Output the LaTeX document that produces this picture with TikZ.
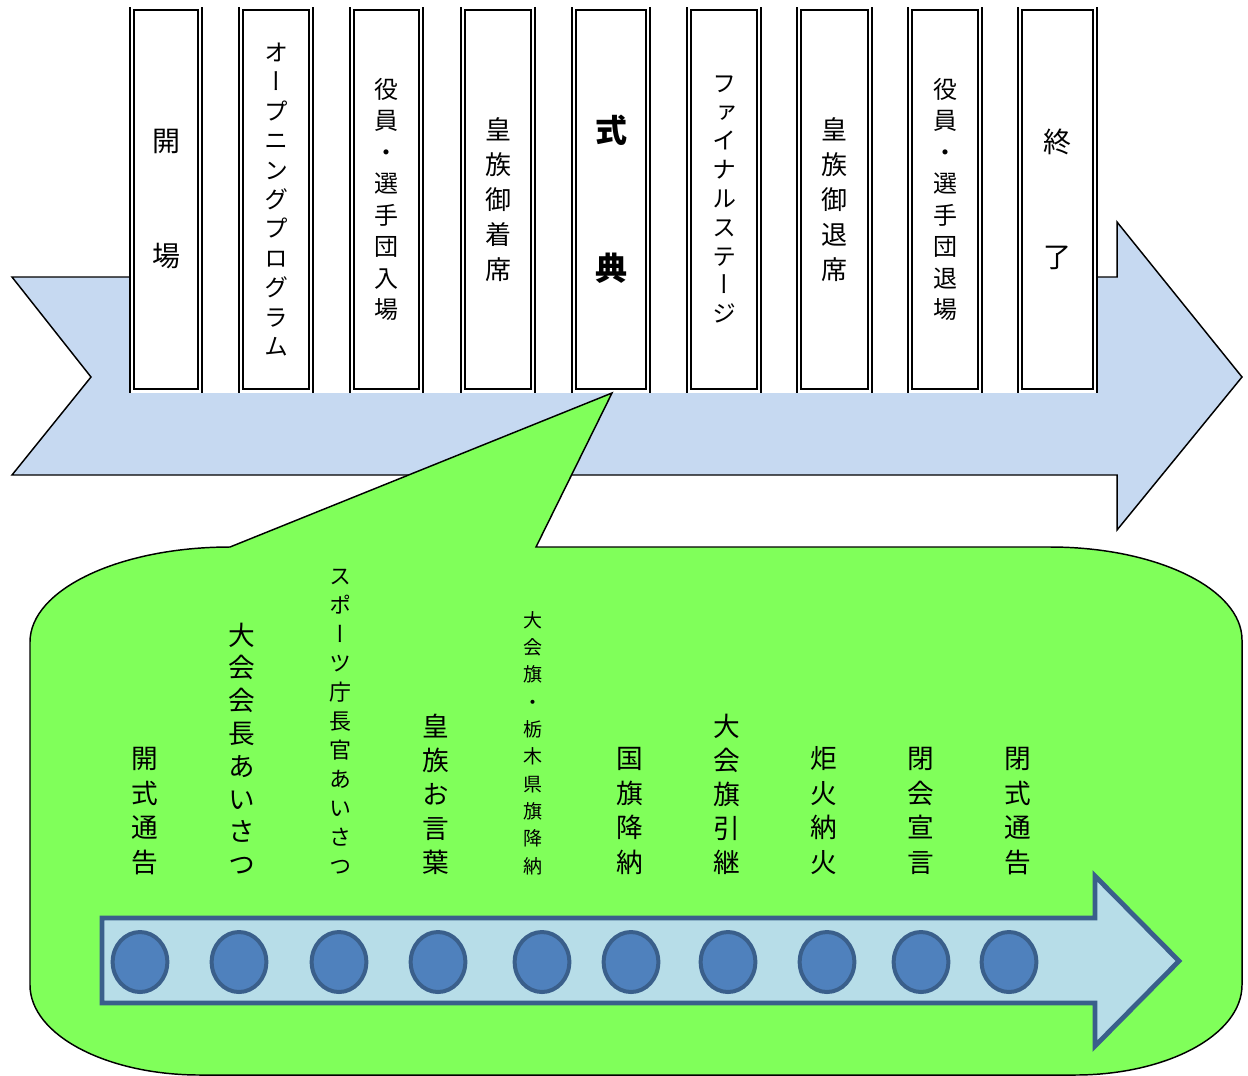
\documentclass[tikz,border=0pt]{standalone}
\usepackage{fontspec}
\setmainfont{Noto Sans CJK JP}[RawFeature=+vert]
\usetikzlibrary{shapes.geometric}

\definecolor{bandblue}{RGB}{198,217,241}
\definecolor{calloutgreen}{RGB}{128,255,90}
\definecolor{trackfill}{RGB}{183,221,232}
\definecolor{trackline}{RGB}{58,95,139}
\definecolor{dotfill}{RGB}{79,129,189}

\tikzset{
  band/.style={fill=bandblue, draw=black, line width=1.1pt, line join=miter},
  callout/.style={fill=calloutgreen, draw=black, line width=1.1pt, line join=miter},
  stage/.style={draw=black, fill=white, line width=1.2pt, inner sep=0pt,
    minimum height=284.25pt, align=center},
  stageline/.style={draw=black, line width=1.2pt},
  track/.style={fill=trackfill, draw=trackline, line width=3.6pt, line join=miter},
  dot/.style={ellipse, fill=dotfill, draw=trackline, line width=3pt,
    minimum width=41pt, minimum height=45pt, inner sep=0pt},
  item/.style={anchor=south, inner sep=0pt, align=center},
}

% one box of the upper timeline: name, left x, right x, font, text
\newcommand\stagebox[5]{%
  \draw[stageline] (#2,7) -- (#2,393) (#3,7) -- (#3,393);
  \node[stage, minimum width={(#3-#2-8)*0.75pt}, font=#4] (#1) at ({(#2+#3)/2},199.5) {#5};
}

\begin{document}
\begin{tikzpicture}[x=0.75pt, y=-0.75pt]
\useasboundingbox (0,0) rectangle (1248,1075);

% big notched arrow of the day's programme
\path[band] (130,277) -- (12,277) -- (91,377) -- (12,475) -- (1117,475)
  -- (1117,530) -- (1242,377) -- (1117,222) -- (1117,277) -- (1097,277);
\fill[white] (130,0) rectangle (1098,393);

% programme steps
\stagebox{s1}{130}{202}{\fontsize{21}{86.25}\selectfont}{開\\場}
\stagebox{s2}{239}{313}{\fontsize{18}{22.1}\selectfont}{オ\\ー\\プ\\ニ\\ン\\グ\\プ\\ロ\\グ\\ラ\\ム}
\stagebox{s3}{350}{423}{\fontsize{18}{23.6}\selectfont}{役\\員\\・\\選\\手\\団\\入\\場}
\stagebox{s4}{461}{535}{\fontsize{19.5}{26.3}\selectfont}{皇\\族\\御\\着\\席}
\stagebox{s5}{572}{650}{\fontsize{24}{103.5}\selectfont\bfseries}{式\\典}
\stagebox{s6}{687}{761}{\fontsize{18}{21.6}\selectfont}{フ\\ァ\\イ\\ナ\\ル\\ス\\テ\\ー\\ジ}
\stagebox{s7}{797}{872}{\fontsize{19.5}{26.3}\selectfont}{皇\\族\\御\\退\\席}
\stagebox{s8}{908}{982}{\fontsize{18}{23.6}\selectfont}{役\\員\\・\\選\\手\\団\\退\\場}
\stagebox{s9}{1018}{1097}{\fontsize{21}{86.25}\selectfont}{終\\了}

% speech bubble detailing the ceremony
\path[callout] (230,547) -- (612,393) -- (536,547) -- (1050,547)
  .. controls (1156,547) and (1242,588.6) .. (1242,640)
  -- (1242,985)
  .. controls (1242,1034.7) and (1167.2,1075) .. (1075,1075)
  -- (200,1075)
  .. controls (106.1,1075) and (30,1034.7) .. (30,985)
  -- (30,642)
  .. controls (30,589.5) and (119.5,547) .. (230,547) -- cycle;

% ceremony time line
\path[track] (102,918) -- (1095,918) -- (1095,876) -- (1179,961)
  -- (1095,1046) -- (1095,1003) -- (102,1003) -- cycle;

\foreach \n/\x in {1/140,2/239,3/339,4/438,5/542,6/631,7/728,8/827,9/921,10/1009}
  \node[dot] (d\n) at (\x,962) {};

% ceremony items
\node[item, font=\fontsize{20}{26}\selectfont] (c1) at (145,875) {開\\式\\通\\告};
\node[item, font=\fontsize{20}{24.6}\selectfont] (c2) at (242,875) {大\\会\\会\\長\\あ\\い\\さ\\つ};
\node[item, font=\fontsize{16.5}{21.8}\selectfont] (c3) at (340,875) {ス\\ポ\\ー\\ツ\\庁\\長\\官\\あ\\い\\さ\\つ};
\node[item, font=\fontsize{20}{25.6}\selectfont] (c4) at (436,875) {皇\\族\\お\\言\\葉};
\node[item, font=\fontsize{14.25}{20.5}\selectfont] (c5) at (533,875) {大\\会\\旗\\・\\栃\\木\\県\\旗\\降\\納};
\node[item, font=\fontsize{20}{26}\selectfont] (c6) at (630,875) {国\\旗\\降\\納};
\node[item, font=\fontsize{20}{25.6}\selectfont] (c7) at (727,875) {大\\会\\旗\\引\\継};
\node[item, font=\fontsize{20}{26}\selectfont] (c8) at (824,875) {炬\\火\\納\\火};
\node[item, font=\fontsize{20}{26}\selectfont] (c9) at (921,875) {閉\\会\\宣\\言};
\node[item, font=\fontsize{20}{26}\selectfont] (c10) at (1018,875) {閉\\式\\通\\告};
\end{tikzpicture}
\end{document}
